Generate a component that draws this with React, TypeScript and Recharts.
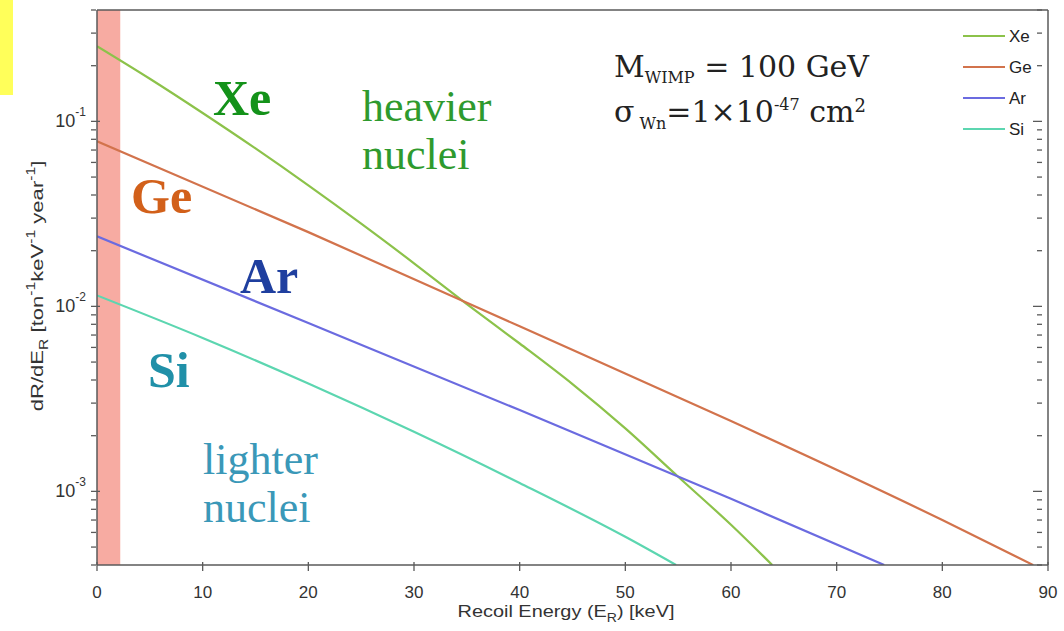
import React from "react";
import { LineChart, Line, XAxis, YAxis, ReferenceArea } from "recharts";

// values (keV, events / ton / keV / year)
const xeEnergy = [0, 5, 10, 15, 20, 25, 30, 35, 40, 45, 50, 55, 60, 63.9];
const xeRate = [0.255, 0.17, 0.111, 0.0714, 0.0451, 0.028, 0.0171, 0.0103, 0.0063, 0.0038, 0.00219, 0.0012, 0.00066, 0.0004];
const geEnergy = [0, 20, 40, 60, 80, 88.6];
const geRate = [0.078, 0.0252, 0.0078, 0.0024, 0.0007, 0.0004];
const arEnergy = [0, 20, 40, 60, 74.5];
const arRate = [0.0239, 0.00813, 0.00275, 0.000912, 0.0004];
const siEnergy = [0, 10, 20, 30, 40, 50, 54.8];
const siRate = [0.01146, 0.00675, 0.00383, 0.0021, 0.00111, 0.000568, 0.0004];

const xTicks = [0, 10, 20, 30, 40, 50, 60, 70, 80, 90];
const yTicks = [
  0.0004, 0.0005, 0.0006, 0.0007, 0.0008, 0.0009,
  0.001, 0.002, 0.003, 0.004, 0.005, 0.006, 0.007, 0.008, 0.009,
  0.01, 0.02, 0.03, 0.04, 0.05, 0.06, 0.07, 0.08, 0.09,
  0.1, 0.2, 0.3, 0.4,
];
const thresholdKeV = 2.2;

const series = [
  { name: "Xe", color: "#8cc24a", x: xeEnergy, y: xeRate },
  { name: "Ge", color: "#d2734c", x: geEnergy, y: geRate },
  { name: "Ar", color: "#6b6be0", x: arEnergy, y: arRate },
  { name: "Si", color: "#5cd6b0", x: siEnergy, y: siRate },
];

const AXIS = "#5a5a5a";
const TXT = "#333";
const SANS = "'Liberation Sans', Arial, sans-serif";
const SERIF = "'Liberation Serif', 'Times New Roman', serif";
const SCHOOL = "'DejaVu Serif', serif";

const isDecade = (v: number) => Math.abs(Math.log10(v) - Math.round(Math.log10(v))) < 1e-6;

const BottomTick = (p: any) => (
  <g>
    <line x1={p.x} x2={p.x} y1={p.y} y2={p.y - 9} stroke={AXIS} strokeWidth={1.3} />
    <text x={p.x} y={p.y + 27} textAnchor="middle" fontSize={17} fontFamily={SANS} fill={TXT}>
      {p.payload.value}
    </text>
  </g>
);

const TopTick = (p: any) => (
  <line x1={p.x} x2={p.x} y1={p.y} y2={p.y + 9} stroke={AXIS} strokeWidth={1.3} />
);

const LeftTick = (p: any) => {
  const v = p.payload.value;
  const major = isDecade(v);
  return (
    <g>
      <line x1={p.x} x2={p.x + (major ? 9 : 5)} y1={p.y} y2={p.y} stroke={AXIS} strokeWidth={1.3} />
      {major && (
        <text x={p.x - 5} y={p.y + 6} textAnchor="end" fontSize={18} fontFamily={SANS} fill={TXT}>
          10<tspan fontSize={12} dy={-11}>{Math.round(Math.log10(v))}</tspan>
        </text>
      )}
    </g>
  );
};

const RightTick = (p: any) => {
  const major = isDecade(p.payload.value);
  return <line x1={p.x} x2={p.x - (major ? 9 : 5)} y1={p.y} y2={p.y} stroke={AXIS} strokeWidth={1.3} />;
};

export default function App() {
  return (
    <div style={{ position: "absolute", left: 0, top: 0, width: 1064, height: 631, background: "#fff" }}>
      <LineChart width={1064} height={631} margin={{ top: 10, right: 16, bottom: 0, left: 0 }}>
        <XAxis
          xAxisId="bottom"
          type="number"
          dataKey="x"
          domain={[0, 90]}
          ticks={xTicks}
          interval={0}
          height={66}
          tickLine={false}
          tickMargin={0}
          tick={<BottomTick />}
          axisLine={{ stroke: AXIS, strokeWidth: 1.5 }}
          allowDataOverflow
        />
        <XAxis
          xAxisId="top"
          orientation="top"
          mirror
          type="number"
          dataKey="x"
          domain={[0, 90]}
          ticks={xTicks}
          interval={0}
          tickLine={false}
          tickMargin={0}
          tick={<TopTick />}
          axisLine={{ stroke: AXIS, strokeWidth: 1.5 }}
        />
        <YAxis
          yAxisId="left"
          scale="log"
          type="number"
          domain={[0.0004, 0.4]}
          ticks={yTicks}
          interval={0}
          width={97}
          tickLine={false}
          tickMargin={0}
          tick={<LeftTick />}
          axisLine={{ stroke: AXIS, strokeWidth: 1.5 }}
          allowDataOverflow
        />
        <YAxis
          yAxisId="right"
          orientation="right"
          mirror
          scale="log"
          type="number"
          domain={[0.0004, 0.4]}
          ticks={yTicks}
          interval={0}
          tickLine={false}
          tickMargin={0}
          tick={<RightTick />}
          axisLine={{ stroke: AXIS, strokeWidth: 1.5 }}
          allowDataOverflow
        />
        {series.map((s) => (
          <Line
            key={s.name}
            xAxisId="bottom"
            yAxisId="left"
            data={s.x.map((x, i) => ({ x, y: s.y[i] }))}
            dataKey="y"
            name={s.name}
            type="monotone"
            stroke={s.color}
            strokeWidth={2.2}
            dot={false}
            isAnimationActive={false}
          />
        ))}
        <ReferenceArea
          xAxisId="bottom"
          yAxisId="left"
          x1={0}
          x2={thresholdKeV}
          fill="#f48a7e"
          fillOpacity={0.72}
          stroke="none"
        />
      </LineChart>

      <svg
        width={1064}
        height={631}
        style={{ position: "absolute", left: 0, top: 0, pointerEvents: "none" }}
      >
        {/* legend */}
        {series.map((s, i) => (
          <g key={s.name}>
            <line x1={963} x2={1005} y1={36 + i * 31} y2={36 + i * 31} stroke={s.color} strokeWidth={2} />
            <text x={1009} y={42 + i * 31} fontSize={17} fontFamily={SANS} fill="#222">
              {s.name}
            </text>
          </g>
        ))}

        {/* element labels */}
        <g fontFamily={SERIF} fontWeight="bold" fontSize={50}>
          <text x={213} y={115} fill="#14921a">Xe</text>
          <text x={131} y={213} fill="#d2601a">Ge</text>
          <text x={240} y={293} fill="#1f3f9f">Ar</text>
          <text x={148} y={387} fill="#2090a8">Si</text>
        </g>
        <g fontFamily={SERIF} fontSize={44}>
          <text x={362} y={121} fill="#2e9a2e">heavier</text>
          <text x={362} y={169} fill="#2e9a2e">nuclei</text>
          <text x={203} y={474} fill="#3a98b8">lighter</text>
          <text x={203} y={522} fill="#3a98b8">nuclei</text>
        </g>

        {/* parameters */}
        <g fontFamily={SCHOOL} fill="#222">
          <text x={614} y={77} fontSize={30}>
            M<tspan fontSize={16} dy={6}>WIMP</tspan>
            <tspan dy={-6}> = 100 GeV</tspan>
          </text>
          <text x={614} y={122} fontSize={30}>
            σ<tspan fontSize={16} dy={7}> Wn</tspan>
            <tspan dy={-7}>=1×10</tspan>
            <tspan fontSize={16} dy={-12}>-47</tspan>
            <tspan dy={12}> cm</tspan>
            <tspan fontSize={18} dy={-10}>2</tspan>
          </text>
        </g>

        {/* axis titles */}
        <text
          transform="translate(566,617) scale(1.17,1)"
          textAnchor="middle"
          fontSize={17}
          fontFamily={SANS}
          fill={TXT}
        >
          Recoil Energy (E<tspan fontSize={12} dy={5}>R</tspan>
          <tspan dy={-5}>) [keV]</tspan>
        </text>
        <text
          transform="translate(43,286) rotate(-90) scale(1.3,1)"
          textAnchor="middle"
          fontSize={17}
          fontFamily={SANS}
          fill={TXT}
        >
          dR/dE<tspan fontSize={12} dy={5}>R</tspan>
          <tspan dy={-5}> [ton</tspan>
          <tspan fontSize={12} dy={-8}>-1</tspan>
          <tspan dy={8}>keV</tspan>
          <tspan fontSize={12} dy={-8}>-1</tspan>
          <tspan dy={8}> year</tspan>
          <tspan fontSize={12} dy={-8}>-1</tspan>
          <tspan dy={8}>]</tspan>
        </text>
      </svg>

      {/* yellow marker in the corner */}
      <div style={{ position: "absolute", left: 0, top: 0, width: 13, height: 95, background: "#ffff5a" }} />
    </div>
  );
}
